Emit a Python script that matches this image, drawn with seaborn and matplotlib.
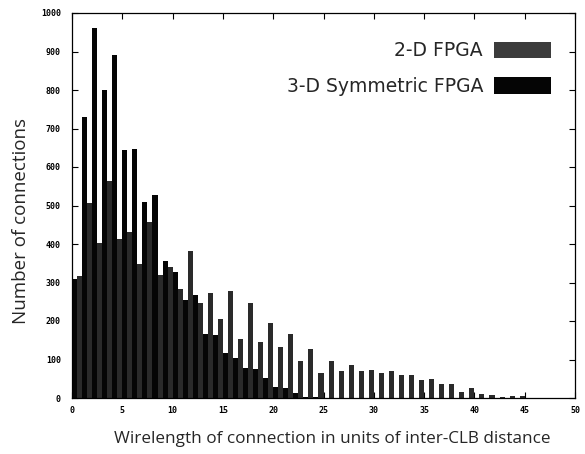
import numpy as np
import pandas as pd
import matplotlib
matplotlib.use("Agg")
import matplotlib.pyplot as plt
import seaborn as sns

# ---- data ----
series_names = ["2-D FPGA", "3-D Symmetric FPGA"]
wl_2d = list(range(1, 46))
n_2d = [317, 506, 402, 564, 412, 431, 349, 456, 320, 340,
        284, 381, 247, 272, 205, 277, 153, 248, 145, 196,
        132, 165, 95, 127, 64, 95, 71, 87, 71, 73,
        66, 71, 59, 59, 47, 50, 36, 36, 16, 26,
        11, 8, 3, 4, 5]
wl_3d = list(range(0, 25))
n_3d = [308, 730, 960, 800, 891, 644, 646, 508, 527, 357,
        326, 254, 267, 165, 164, 116, 105, 79, 76, 53,
        29, 26, 13, 3, 2]
x_ticks = list(range(0, 51, 5))
y_ticks = list(range(0, 1001, 100))
colors = ["#2a2a2a", "#050505"]

df = pd.concat([
    pd.DataFrame({"wl": wl_2d, "n": n_2d, "series": series_names[0]}),
    pd.DataFrame({"wl": wl_3d, "n": n_3d, "series": series_names[1]}),
], ignore_index=True)

sns.set_theme(style="ticks")
plt.rcParams["font.family"] = ["Open Sans", "DejaVu Sans"]

fig = plt.figure(figsize=(5.85, 4.54), dpi=100)
ax = fig.add_axes([72/585, 1-398/454, (575-72)/585, (398-13)/454])

sns.barplot(data=df, x="wl", y="n", hue="series", hue_order=series_names,
            palette=colors, native_scale=True, width=1.0, dodge=True,
            linewidth=0, saturation=1, errorbar=None, ax=ax)

ax.set_xlim(0, 50)
ax.set_ylim(0, 1000)
ax.set_xticks(x_ticks)
ax.set_yticks(y_ticks)
ax.set_xticklabels([str(v) for v in x_ticks], family="DejaVu Sans Mono",
                   fontsize=6, fontweight="bold")
ax.set_yticklabels([str(v) for v in y_ticks], family="DejaVu Sans Mono",
                   fontsize=6, fontweight="bold")
ax.tick_params(axis="y", pad=8)
ax.tick_params(direction="in", length=4, width=0.8, top=True, right=True,
               colors="black")
ax.tick_params(axis="x", pad=6)
for s in ax.spines.values():
    s.set_visible(True)
    s.set_color("black")
    s.set_linewidth(0.9)

ax.set_xlabel("Wirelength of connection in units of inter-CLB distance",
              fontsize=12.3)
ax.set_ylabel("Number of connections", fontsize=13.5)
ax.xaxis.set_label_coords(0.517, -0.085)
ax.yaxis.set_label_coords(-0.083, 0.46)

handles, labels = ax.get_legend_handles_labels()
leg = ax.legend(handles, labels, loc="upper right", frameon=False, markerfirst=False,
                handlelength=3.0, handleheight=1.0,
                bbox_to_anchor=(0.985, 0.97), labelspacing=0.9, handletextpad=0.6,
                prop={"family": ["DejaVu Sans"], "size": 13.5})
leg.legend_handles[0].set_facecolor("#3c3c3c")

fig.savefig("out.png", dpi=100)
